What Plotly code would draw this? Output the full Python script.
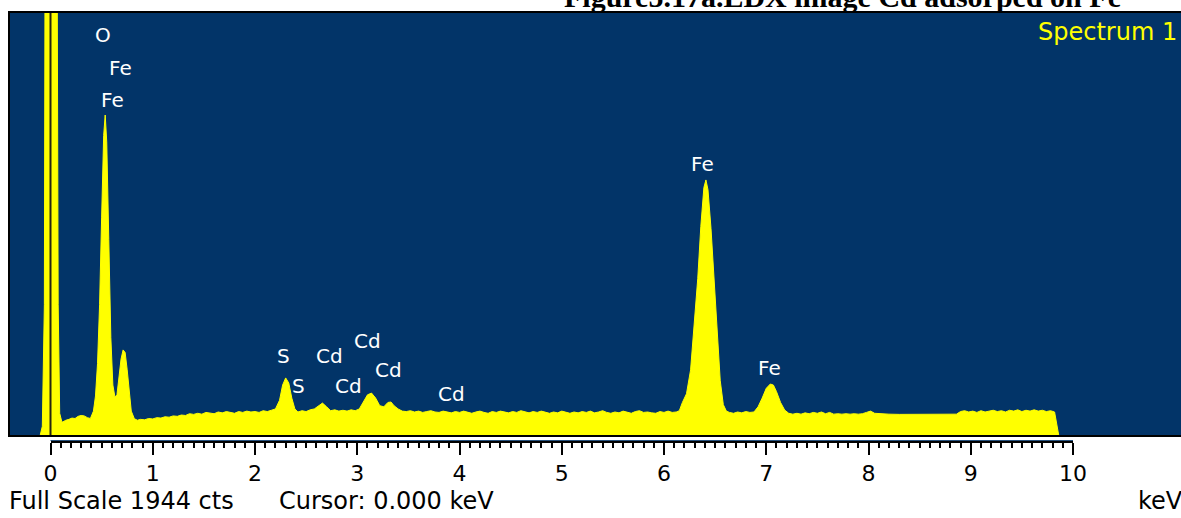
import plotly.graph_objects as go

# ---------------- data ----------------
energy_kev = [
    -0.10, -0.08, -0.06, -0.05, 0.06, 0.075, 0.09, 0.11,
    0.12, 0.15, 0.18, 0.21, 0.24, 0.27, 0.30, 0.33, 0.36, 0.39,
    0.42, 0.44, 0.46, 0.48, 0.50, 0.52, 0.535, 0.55, 0.57, 0.59, 0.61, 0.63,
    0.65, 0.67, 0.69, 0.71, 0.73, 0.75, 0.77, 0.79, 0.82, 0.85,
    0.88, 0.92, 0.96, 1.00, 1.04, 1.08, 1.12, 1.16, 1.20, 1.24, 1.28, 1.32,
    1.36, 1.40, 1.44, 1.48, 1.52, 1.56, 1.60, 1.64, 1.68, 1.72, 1.76, 1.80,
    1.84, 1.88, 1.92, 1.96, 2.00, 2.04, 2.08, 2.12, 2.16, 2.20,
    2.24, 2.27, 2.30, 2.33, 2.36, 2.39, 2.42, 2.46, 2.50, 2.54, 2.58, 2.62,
    2.66, 2.70, 2.74, 2.78, 2.82, 2.86, 2.90, 2.94, 2.98, 3.02, 3.06, 3.10,
    3.14, 3.18, 3.22, 3.26, 3.30, 3.33, 3.36, 3.40, 3.44, 3.48,
    3.52, 3.56, 3.60, 3.64, 3.68, 3.72, 3.76, 3.80, 3.84, 3.88, 3.92, 3.96,
    4.00, 4.04, 4.08, 4.12, 4.16, 4.20, 4.24, 4.28, 4.32, 4.36, 4.40, 4.44,
    4.48, 4.52, 4.56, 4.60, 4.64, 4.68, 4.72, 4.76, 4.80, 4.84, 4.88, 4.92,
    4.96, 5.00, 5.04, 5.08, 5.12, 5.16, 5.20, 5.24, 5.28, 5.32, 5.36, 5.40,
    5.44, 5.48, 5.52, 5.56, 5.60, 5.64, 5.68, 5.72, 5.76, 5.80, 5.84, 5.88,
    5.92, 5.96, 6.00, 6.04, 6.08, 6.12, 6.15,
    6.18, 6.22, 6.26, 6.30, 6.33, 6.36, 6.39, 6.41, 6.43, 6.46, 6.49, 6.52,
    6.55, 6.58, 6.61, 6.64, 6.68, 6.72, 6.76, 6.80, 6.84, 6.88,
    6.92, 6.96, 7.00, 7.04, 7.07, 7.10, 7.14, 7.18, 7.22,
    7.26, 7.30, 7.34, 7.38, 7.42, 7.46, 7.50, 7.54, 7.58, 7.62, 7.66, 7.70,
    7.74, 7.78, 7.82, 7.86, 7.90, 7.94, 7.98, 8.02, 8.06, 8.10, 8.14,
    8.20, 8.30, 8.40, 8.50, 8.60, 8.70, 8.80, 8.86,
    8.90, 8.94, 8.98, 9.02, 9.06, 9.10, 9.14, 9.18, 9.22, 9.26, 9.30, 9.34,
    9.38, 9.42, 9.46, 9.50, 9.54, 9.58, 9.62, 9.66, 9.70, 9.74, 9.78, 9.82,
    9.84, 9.86,
]
counts = [
    0, 40, 600, 3000, 3000, 600, 100, 62,
    60, 68, 72, 78, 76, 86, 90, 88, 80, 76,
    110, 180, 330, 600, 1000, 1380, 1474, 1350, 900, 450, 230, 175,
    185, 260, 350, 392, 380, 300, 190, 110, 75, 68,
    72, 70, 76, 74, 80, 78, 84, 82, 88, 86, 92, 90,
    98, 95, 100, 96, 104, 100, 98, 106, 102, 108, 104, 100,
    108, 104, 110, 106, 108, 104, 112, 108, 114, 120,
    160, 230, 263, 240, 170, 120, 106, 112, 108, 116, 120, 135,
    147, 130, 112, 116, 110, 114, 110, 116, 112, 120, 150, 185,
    193, 170, 135, 130, 150, 152, 135, 120, 110, 108,
    112, 106, 110, 104, 108, 112, 106, 104, 110, 106, 102, 108,
    104, 110, 106, 100, 106, 110, 104, 100, 108, 104, 110, 106,
    102, 108, 104, 112, 106, 102, 108, 104, 110, 104, 100, 106,
    102, 110, 104, 100, 106, 102, 108, 104, 110, 102, 106, 112,
    104, 100, 106, 102, 110, 104, 100, 108, 112, 104, 106, 102,
    100, 108, 104, 110, 104, 106, 112,
    150, 190, 300, 520, 720, 960, 1140, 1175, 1130, 950, 700, 450,
    250, 140, 110, 104, 100, 106, 102, 108, 104, 106,
    130, 170, 215, 235, 230, 200, 150, 115, 100,
    96, 100, 96, 102, 98, 104, 100, 106, 98, 104, 96, 98,
    96, 98, 96, 98, 96, 98, 104, 110, 100, 98, 98,
    96, 95, 95, 95, 95, 95, 95, 96,
    108, 112, 106, 110, 104, 112, 106, 110, 114, 108, 112, 106,
    114, 110, 116, 108, 114, 110, 116, 110, 114, 108, 112, 106,
    60, 0,
]

full_scale_cts = 1944
cursor_kev = 0.0
tick_values = [0, 1, 2, 3, 4, 5, 6, 7, 8, 9, 10]
tick_labels = ["0", "1", "2", "3", "4", "5", "6", "7", "8", "9", "10"]

peak_labels = ["O", "Fe", "Fe", "S", "S", "Cd", "Cd", "Cd", "Cd", "Cd", "Fe", "Fe"]
peak_label_kev = [0.513, 0.680, 0.611, 2.274, 2.430, 2.724, 3.105, 2.919, 3.301, 3.917, 6.372, 7.027]
peak_label_cts = [1843, 1691, 1543, 364, 226, 364, 433, 226, 299, 189, 1248, 309]

title_text = "Figure5.17a.EDX image Cd adsorped on Fe"
spectrum_name = "Spectrum 1"

# ---------------- layout geometry ----------------
W, H = 1181, 518
left_px, top_px, ruler_px, box_bottom_px = 10, 13, 441, 435
zero_px, ten_px = 50.5, 1073.0
px_per_kev = (ten_px - zero_px) / 10.0
paper_w = W - left_px
paper_h = ruler_px - top_px

x_min = (left_px - zero_px) / px_per_kev
x_max = (W - zero_px) / px_per_kev

def px_to_paper_x(px):
    return (px - left_px) / paper_w

def px_to_paper_y(py):
    return (ruler_px - py) / paper_h

BLUE = "#023468"
YELLOW = "#FFFF00"

fig = go.Figure()
fig.add_trace(go.Scatter(
    x=energy_kev, y=counts, mode="lines",
    line=dict(color=YELLOW, width=1),
    fill="tozeroy", fillcolor=YELLOW,
    hoverinfo="skip", showlegend=False,
))

# invisible trace so the ruler axis (x2 / y2) is rendered
fig.add_trace(go.Scatter(x=[0, 10], y=[None, None], xaxis="x2", yaxis="y2",
                         mode="lines", showlegend=False, hoverinfo="skip"))

fig.add_shape(type="line", xref="x", yref="y domain", x0=cursor_kev, x1=cursor_kev,
              y0=0, y1=1, line=dict(color="#262610", width=2), layer="above")

annotations = []
for t, xk, yc in zip(peak_labels, peak_label_kev, peak_label_cts):
    annotations.append(dict(
        x=xk, y=yc, xref="x", yref="y", text=t, showarrow=False,
        font=dict(family="DejaVu Sans", size=20, color="white"),
        xanchor="center", yanchor="middle",
    ))

annotations += [
    dict(x=px_to_paper_x(1036), y=px_to_paper_y(32), xref="paper", yref="paper",
         text=spectrum_name, showarrow=False, xanchor="left", yanchor="middle",
         font=dict(family="DejaVu Sans", size=24, color=YELLOW)),
    dict(x=px_to_paper_x(842), y=px_to_paper_y(-4), xref="paper", yref="paper",
         text="<b>" + title_text + "</b>", showarrow=False, xanchor="center", yanchor="middle",
         font=dict(family="Liberation Serif", size=30, color="black")),
    dict(x=px_to_paper_x(7), y=px_to_paper_y(501), xref="paper", yref="paper",
         text=f"Full Scale {full_scale_cts} cts", showarrow=False, xanchor="left", yanchor="middle",
         font=dict(family="DejaVu Sans", size=24, color="black")),
    dict(x=px_to_paper_x(277), y=px_to_paper_y(501), xref="paper", yref="paper",
         text=f"Cursor: {cursor_kev:.3f} keV", showarrow=False, xanchor="left", yanchor="middle",
         font=dict(family="DejaVu Sans", size=24, color="black")),
    dict(x=px_to_paper_x(1136), y=px_to_paper_y(501), xref="paper", yref="paper",
         text="keV", showarrow=False, xanchor="left", yanchor="middle",
         font=dict(family="DejaVu Sans", size=24, color="black")),
]

fig.update_layout(
    width=W, height=H,
    margin=dict(l=left_px, r=0, t=top_px, b=H - ruler_px, pad=0, autoexpand=False),
    paper_bgcolor="white", plot_bgcolor=BLUE,
    showlegend=False,
    annotations=annotations,
    xaxis=dict(
        range=[x_min, x_max], showgrid=False, zeroline=False,
        showticklabels=False, ticks="", showline=True, linecolor="black",
        linewidth=2, mirror=True, fixedrange=True, anchor="y",
    ),
    yaxis=dict(
        range=[0, full_scale_cts], domain=[(ruler_px - box_bottom_px) / paper_h, 1],
        showgrid=False, zeroline=False, showticklabels=False, ticks="",
        showline=True, linecolor="black", linewidth=2, mirror=True, fixedrange=True,
        anchor="x",
    ),
    xaxis2=dict(
        domain=[px_to_paper_x(zero_px), px_to_paper_x(ten_px)],
        range=[0, 10], anchor="y2",
        showgrid=False, zeroline=False,
        showline=True, linecolor="black", linewidth=2,
        tickmode="array", tickvals=tick_values, ticktext=tick_labels,
        ticks="outside", ticklen=12, tickwidth=2, tickcolor="black",
        minor=dict(dtick=0.1, tick0=0, ticks="outside", ticklen=5, tickwidth=1.5, tickcolor="black"),
        tickfont=dict(family="DejaVu Sans", size=22, color="black"),
        fixedrange=True,
    ),
    yaxis2=dict(
        domain=[0, 0.002], anchor="x2", visible=False, fixedrange=True,
        showgrid=False, zeroline=False,
    ),
)

fig.write_html("out.html")
